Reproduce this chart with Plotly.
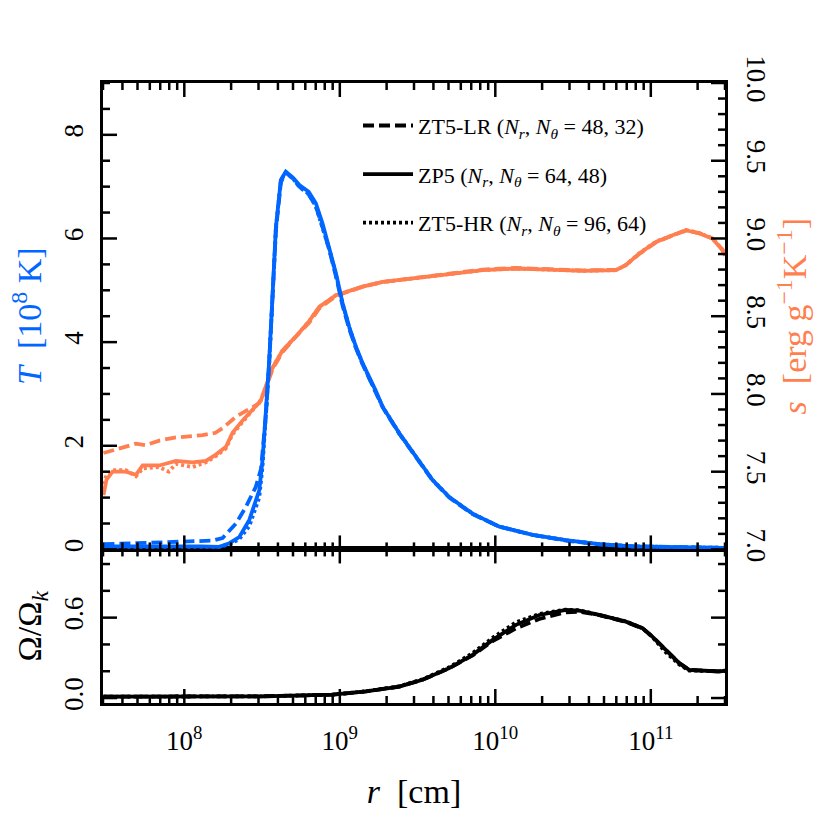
import numpy as np
import plotly.graph_objects as go

# ── data (log10 r [cm]) ───────────────────────────────────────────
# Temperature, 10^8 K
t_lr_logr = [7.48, 7.7, 7.9, 8.1, 8.18, 8.246, 8.332, 8.396, 8.46, 8.493, 8.525, 8.546,
             8.568, 8.589, 8.621, 8.653, 8.70, 8.74, 8.80, 8.846, 8.889, 8.932, 8.975,
             9.018, 9.061, 9.104, 9.147, 9.23, 9.276, 9.383, 9.489, 9.597, 9.704, 9.854,
             10.026, 10.24, 10.454, 10.669, 10.883, 11.097, 11.3, 11.477]
t_lr = [0.10, 0.12, 0.15, 0.16, 0.17, 0.22, 0.50, 0.82, 1.21, 1.55, 2.60, 3.60,
        4.90, 6.15, 7.08, 7.27, 7.15, 7.00, 6.85, 6.62, 6.22, 5.78, 5.27,
        4.70, 4.25, 3.88, 3.57, 3.05, 2.74, 2.23, 1.78, 1.33, 1.00, 0.68,
        0.44, 0.28, 0.17, 0.10, 0.06, 0.05, 0.04, 0.03]

t_zp_logr = [7.48, 7.7, 7.9, 8.1, 8.225, 8.29, 8.354, 8.418, 8.482, 8.503, 8.525, 8.546,
             8.568, 8.589, 8.621, 8.653, 8.70, 8.74, 8.80, 8.846, 8.889, 8.932, 8.975,
             9.018, 9.061, 9.104, 9.147, 9.23, 9.276, 9.383, 9.489, 9.597, 9.704, 9.854,
             10.026, 10.24, 10.454, 10.669, 10.883, 11.097, 11.3, 11.477]
t_zp = [0.06, 0.06, 0.07, 0.06, 0.05, 0.12, 0.24, 0.57, 1.14, 1.72, 2.69, 3.65,
        4.94, 6.22, 7.13, 7.29, 7.17, 7.03, 6.90, 6.68, 6.29, 5.84, 5.33,
        4.75, 4.29, 3.91, 3.59, 3.07, 2.75, 2.24, 1.79, 1.34, 1.01, 0.69,
        0.44, 0.28, 0.18, 0.10, 0.06, 0.05, 0.04, 0.03]

t_hr_logr = t_zp_logr
t_hr = [0.05, 0.05, 0.06, 0.05, 0.05, 0.10, 0.20, 0.45, 1.00, 1.60, 2.60, 3.60,
        4.90, 6.20, 7.12, 7.28, 7.15, 7.00, 6.86, 6.62, 6.20, 5.80, 5.30,
        4.74, 4.28, 3.90, 3.58, 3.06, 2.75, 2.24, 1.79, 1.34, 1.01, 0.69,
        0.44, 0.28, 0.18, 0.10, 0.06, 0.05, 0.04, 0.03]

# Entropy, erg g^-1 K^-1
s_lr_logr = [7.48, 7.55, 7.624, 7.689, 7.75, 7.839, 7.946, 8.053, 8.118, 8.2, 8.246,
             8.332, 8.418, 8.482, 8.525, 8.568, 8.632, 8.718, 8.804, 8.868, 8.975, 9.082,
             9.147, 9.276, 9.489, 9.704, 9.918, 10.13, 10.347, 10.561, 10.776, 10.84,
             10.926, 11.033, 11.14, 11.226, 11.312, 11.397, 11.46, 11.477]
s_lr = [7.62, 7.64, 7.66, 7.68, 7.67, 7.70, 7.72, 7.73, 7.735, 7.75, 7.78,
        7.853, 7.907, 7.94, 8.04, 8.16, 8.27, 8.37, 8.46, 8.55, 8.63, 8.665,
        8.69, 8.72, 8.745, 8.772, 8.80, 8.81, 8.802, 8.795, 8.798, 8.83,
        8.90, 8.975, 9.02, 9.05, 9.035, 9.0, 8.93, 8.90]

s_zp_logr = [7.48, 7.50, 7.539, 7.624, 7.689, 7.732, 7.839, 7.946, 8.053, 8.139, 8.203,
             8.268, 8.31, 8.375, 8.44, 8.493, 8.525, 8.568, 8.632, 8.718, 8.804, 8.868,
             8.975, 9.082, 9.147, 9.276, 9.489, 9.704, 9.918, 10.13, 10.347, 10.561,
             10.776, 10.84, 10.926, 11.033, 11.14, 11.226, 11.312, 11.397, 11.46, 11.477]
s_zp = [7.35, 7.45, 7.50, 7.50, 7.48, 7.54, 7.54, 7.57, 7.56, 7.57, 7.61,
        7.66, 7.75, 7.83, 7.90, 7.96, 8.05, 8.17, 8.28, 8.37, 8.47, 8.56,
        8.635, 8.667, 8.69, 8.721, 8.743, 8.77, 8.796, 8.807, 8.80, 8.792,
        8.796, 8.828, 8.904, 8.978, 9.021, 9.053, 9.032, 9.0, 8.925, 8.89]

s_hr_logr = [7.48, 7.50, 7.539, 7.624, 7.689, 7.732, 7.839, 7.9, 7.946, 8.053, 8.139, 8.203,
             8.268, 8.31, 8.375, 8.44, 8.493, 8.525, 8.568, 8.632, 8.718, 8.804, 8.868,
             8.975, 9.082, 9.147, 9.276, 9.489, 9.704, 9.918, 10.13, 10.347, 10.561,
             10.776, 10.84, 10.926, 11.033, 11.14, 11.226, 11.312, 11.397, 11.46, 11.477]
s_hr = [7.42, 7.48, 7.51, 7.51, 7.47, 7.52, 7.53, 7.50, 7.55, 7.53, 7.56, 7.60,
        7.65, 7.74, 7.82, 7.90, 7.96, 8.05, 8.17, 8.28, 8.37, 8.47, 8.56,
        8.635, 8.667, 8.69, 8.72, 8.745, 8.772, 8.796, 8.807, 8.80, 8.792,
        8.796, 8.83, 8.905, 8.98, 9.02, 9.055, 9.035, 9.0, 8.93, 8.89]

# Omega / Omega_k
om_logr = [7.48, 8.0, 8.5, 8.954, 9.168, 9.383, 9.532, 9.704, 9.854, 9.983, 10.133,
           10.283, 10.454, 10.54, 10.669, 10.84, 10.947, 11.01, 11.097, 11.183, 11.247,
           11.354, 11.44, 11.477]
om_lr = [0.01, 0.01, 0.013, 0.025, 0.049, 0.086, 0.136, 0.222, 0.318, 0.425, 0.52,
         0.59, 0.64, 0.645, 0.618, 0.568, 0.52, 0.458, 0.36, 0.26, 0.21, 0.205, 0.198, 0.205]
om_zp = [0.01, 0.01, 0.013, 0.025, 0.049, 0.086, 0.136, 0.223, 0.322, 0.434, 0.546,
         0.620, 0.657, 0.652, 0.620, 0.570, 0.521, 0.459, 0.36, 0.26, 0.21, 0.205, 0.198, 0.205]
om_hr = [0.01, 0.01, 0.013, 0.025, 0.05, 0.088, 0.14, 0.23, 0.335, 0.45, 0.565,
         0.628, 0.66, 0.655, 0.622, 0.572, 0.52, 0.455, 0.34, 0.25, 0.205, 0.2, 0.195, 0.2]

x_major = [1e8, 1e9, 1e10, 1e11]
x_major_text = ["10<sup>8</sup>", "10<sup>9</sup>", "10<sup>10</sup>", "10<sup>11</sup>"]

runs = [
    ("ZT5-LR (<i>N<sub>r</sub></i>,&nbsp;<i>N<sub>θ</sub></i>&nbsp;=&nbsp;48,&nbsp;32)", "11px,5px"),
    ("ZP5 (<i>N<sub>r</sub></i>,&nbsp;<i>N<sub>θ</sub></i>&nbsp;=&nbsp;64,&nbsp;48)", "solid"),
    ("ZT5-HR (<i>N<sub>r</sub></i>,&nbsp;<i>N<sub>θ</sub></i>&nbsp;=&nbsp;96,&nbsp;64)", "3px,3px"),
]

BLUE = "#0066FF"
ORANGE = "#FF7F50"
FONT = "Liberation Serif"
LW = 3.8

# axis ranges
X_LO, X_HI = np.log10(3e7), np.log10(3e11)
T_LO, T_HI = 0, 9
S_LO, S_HI = 7, 10
OM_LO, OM_HI = -0.037, 1.109


def r(logr):
    return np.power(10.0, np.array(logr))


fig = go.Figure()

s_sets = [(s_lr_logr, s_lr), (s_zp_logr, s_zp), (s_hr_logr, s_hr)]
t_sets = [(t_lr_logr, t_lr), (t_zp_logr, t_zp), (t_hr_logr, t_hr)]
om_sets = [om_lr, om_zp, om_hr]

for (xs, ys), (_, dash) in zip(s_sets, runs):
    fig.add_trace(go.Scatter(x=r(xs), y=ys, mode="lines", xaxis="x2", yaxis="y2",
                             line=dict(color=ORANGE, width=LW, dash=dash), showlegend=False))
for (xs, ys), (_, dash) in zip(t_sets, runs):
    fig.add_trace(go.Scatter(x=r(xs), y=ys, mode="lines", xaxis="x2", yaxis="y3",
                             line=dict(color=BLUE, width=LW, dash=dash), showlegend=False))
for ys, (_, dash) in zip(om_sets, runs):
    fig.add_trace(go.Scatter(x=r(om_logr), y=ys, mode="lines", xaxis="x", yaxis="y",
                             line=dict(color="black", width=LW, dash=dash), showlegend=False))

# legend entries (black)
for i, (name, dash) in enumerate(runs):
    fig.add_trace(go.Scatter(x=[None], y=[None], mode="lines", name=name, xaxis="x2", yaxis="y2",
                             legendgroup=f"g{i}",
                             line=dict(color="black", width=LW, dash=dash)))


# ── inward ticks (drawn as shapes, matplotlib "in" style) ─────────
MAJ, MIN = 14, 7


def x_ticks(vals, length, xref, yref, at, sign):
    for v in vals:
        f = (np.log10(v) - X_LO) / (X_HI - X_LO)
        fig.add_shape(type="line", xref=xref, yref=yref, x0=f, x1=f,
                      ysizemode="pixel", yanchor=at, y0=0, y1=sign * length,
                      line=dict(color="black", width=2.5), layer="above")


def y_ticks(vals, lo, hi, length, yref, at, sign):
    for v in vals:
        f = (v - lo) / (hi - lo)
        fig.add_shape(type="line", xref="x domain", yref=yref, y0=f, y1=f,
                      xsizemode="pixel", xanchor=at, x0=0, x1=sign * length,
                      line=dict(color="black", width=2.5), layer="above")


x_minor = [m * 10.0 ** k for k in range(7, 12) for m in range(2, 10)
           if 3e7 <= m * 10.0 ** k <= 3e11]
for yref, at, sign in [("y domain", 0, 1), ("y domain", 1, -1),
                       ("y2 domain", 0, 1), ("y2 domain", 1, -1)]:
    xref = "x domain" if yref == "y domain" else "x2 domain"
    x_ticks(x_major, MAJ, xref, yref, at, sign)
    x_ticks(x_minor, MIN, xref, yref, at, sign)

t_major = [0, 2, 4, 6, 8]
t_minor = [k * 0.5 for k in range(19) if k % 4 != 0]
s_major = [7 + k * 0.5 for k in range(7)]
s_minor = [7 + k * 0.1 for k in range(31) if k % 5 != 0]
om_major = [0.0, 0.6]
om_minor = [0.2, 0.4, 0.8, 1.0]

y_ticks(t_major, T_LO, T_HI, MAJ, "y2 domain", 0, 1)
y_ticks(t_minor, T_LO, T_HI, MIN, "y2 domain", 0, 1)
y_ticks(s_major, S_LO, S_HI, MAJ, "y2 domain", 1, -1)
y_ticks(s_minor, S_LO, S_HI, MIN, "y2 domain", 1, -1)
for at, sign in [(0, 1), (1, -1)]:
    y_ticks(om_major, OM_LO, OM_HI, MAJ, "y domain", at, sign)
    y_ticks(om_minor, OM_LO, OM_HI, MIN, "y domain", at, sign)

split = 0.2477
tfont = dict(family=FONT, size=27, color="black")
spine = dict(showline=True, linecolor="black", linewidth=3, ticks="",
             showgrid=False, zeroline=False)

fig.update_layout(
    width=830, height=830,
    paper_bgcolor="white", plot_bgcolor="white",
    margin=dict(l=103, r=105, t=83, b=127),
    font=dict(family=FONT, color="black"),
    xaxis=dict(type="log", range=[X_LO, X_HI], anchor="y", mirror=True,
               tickmode="array", tickvals=x_major, ticktext=x_major_text, tickfont=tfont,
               ticklabelstandoff=12,
               title=dict(text="<i>r</i>  [cm]", font=dict(family=FONT, size=34), standoff=24),
               **spine),
    xaxis2=dict(type="log", range=[X_LO, X_HI], anchor="y2", matches="x", mirror=True,
                showticklabels=False, **spine),
    yaxis=dict(domain=[0, split], range=[OM_LO, OM_HI], anchor="x", mirror=True,
               tickmode="array", tickvals=om_major, tickformat=".1f", tickangle=-90,
               tickfont=tfont, ticklabelstandoff=6,
               title=dict(text="Ω/Ω<sub><i>k</i></sub>", font=dict(family=FONT, size=34),
                          standoff=8),
               **spine),
    yaxis2=dict(domain=[split, 1], range=[S_LO, S_HI], anchor="x2", side="right",
                tickmode="array", tickvals=s_major, tickformat=".1f", tickangle=90,
                tickfont=tfont, ticklabelstandoff=8,
                title=dict(text="<i>s</i>  [erg g<sup>−1</sup>K<sup>−1</sup>]",
                           font=dict(family=FONT, size=34, color=ORANGE), standoff=8),
                **spine),
    yaxis3=dict(range=[T_LO, T_HI], anchor="x2", overlaying="y2", side="left",
                tickmode="array", tickvals=t_major, tickangle=-90, tickfont=tfont,
                ticklabelstandoff=6,
                title=dict(text="<i>T</i>  [10<sup>8</sup> K]",
                           font=dict(family=FONT, size=34, color=BLUE), standoff=8),
                **spine),
    legend=dict(x=0.41, y=0.965, xanchor="left", yanchor="top", itemwidth=50,
                bgcolor="rgba(0,0,0,0)", borderwidth=0, tracegroupgap=17,
                font=dict(family=FONT, size=22, color="black")),
)

fig.write_html("out.html", post_script="document.body.style.margin='0';",
               config=dict(displayModeBar=False))
